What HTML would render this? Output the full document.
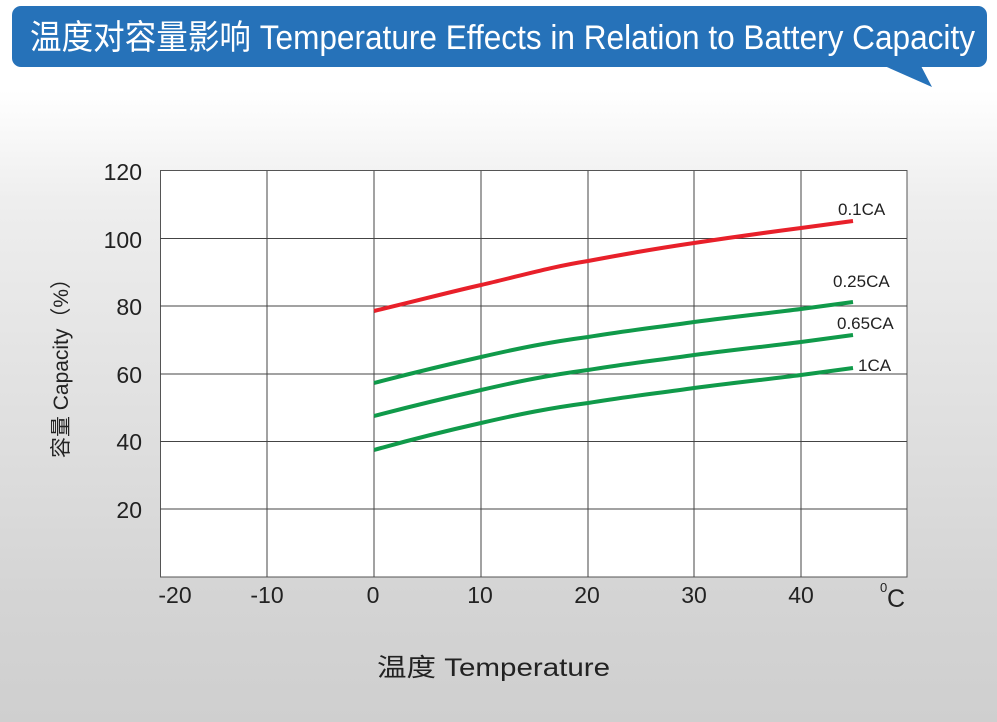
<!DOCTYPE html>
<html><head><meta charset="utf-8"><style>
body{margin:0;width:997px;height:722px;overflow:hidden;background:linear-gradient(#fff 0px,#fff 90px,#eeeeee 200px,#d4d4d4 600px,#cfcfcf 722px);font-family:"Liberation Sans","Noto Sans CJK SC",sans-serif;}
</style></head><body>
<svg width="997" height="722" style="position:absolute;left:0;top:0">
<rect x="12" y="6" width="975" height="61" rx="9" fill="#2672b9"/>
<polygon points="880,64 920,64 932,87" fill="#2672b9"/>
<text x="30" y="49" font-size="34" fill="#fff" font-family="Liberation Sans,Noto Sans CJK SC,sans-serif" textLength="945" lengthAdjust="spacingAndGlyphs">温度对容量影响 Temperature Effects in Relation to Battery Capacity</text>
<rect x="160.5" y="170.5" width="746.5" height="406.5" fill="#fff" stroke="#555" stroke-width="1"/>
<g stroke="#444" stroke-width="1">
<line x1="267" y1="171" x2="267" y2="577"/><line x1="374" y1="171" x2="374" y2="577"/>
<line x1="481" y1="171" x2="481" y2="577"/><line x1="588" y1="171" x2="588" y2="577"/>
<line x1="694" y1="171" x2="694" y2="577"/><line x1="801" y1="171" x2="801" y2="577"/>
<line x1="160" y1="238.5" x2="907" y2="238.5"/><line x1="160" y1="306" x2="907" y2="306"/>
<line x1="160" y1="374" x2="907" y2="374"/><line x1="160" y1="441.5" x2="907" y2="441.5"/>
<line x1="160" y1="509" x2="907" y2="509"/>
</g>
<g fill="none" stroke-width="4">
<path d="M374,311 C420,300 450,292 481,285 C520,276 550,267 588,261 C630,253 660,248 694,243 C740,236 770,232 801,228 L853,221" stroke="#e8202a"/>
<path d="M374,383 C420,371 450,364 481,357 C520,348 550,342 588,337 C630,330 660,327 694,322 C740,316 770,313 801,309 L853,302" stroke="#109a4a"/>
<path d="M374,416 C420,404 450,397 481,390 C520,381 550,375 588,370 C630,363 660,360 694,355 C740,349 770,346 801,342 L853,335" stroke="#109a4a"/>
<path d="M374,450 C420,437 450,430 481,423 C520,414 550,408 588,403 C630,396 660,393 694,388 C740,382 770,379 801,375 L853,368" stroke="#109a4a"/>
</g>
<g font-size="17" fill="#222">
<text x="838" y="215">0.1CA</text><text x="833" y="287">0.25CA</text>
<text x="837" y="329">0.65CA</text><text x="858" y="371">1CA</text>
</g>
<g font-size="23" fill="#222" text-anchor="end">
<text x="142" y="180">120</text><text x="142" y="248">100</text><text x="142" y="315">80</text>
<text x="142" y="383">60</text><text x="142" y="450">40</text><text x="142" y="518">20</text>
</g>
<g font-size="23" fill="#222" text-anchor="middle">
<text x="175" y="603">-20</text><text x="267" y="603">-10</text><text x="373" y="603">0</text>
<text x="480" y="603">10</text><text x="587" y="603">20</text><text x="694" y="603">30</text><text x="801" y="603">40</text>
</g>
<text x="880" y="592" font-size="13" fill="#222">0</text>
<text x="887" y="607" font-size="25" fill="#222">C</text>
<text x="377" y="676" font-size="25" fill="#222" textLength="233" lengthAdjust="spacingAndGlyphs">温度  Temperature</text>
<text transform="translate(68,458) rotate(-90)" font-size="21" fill="#222" textLength="190" lengthAdjust="spacing">容量 Capacity（%）</text>
</svg>
</body></html>
